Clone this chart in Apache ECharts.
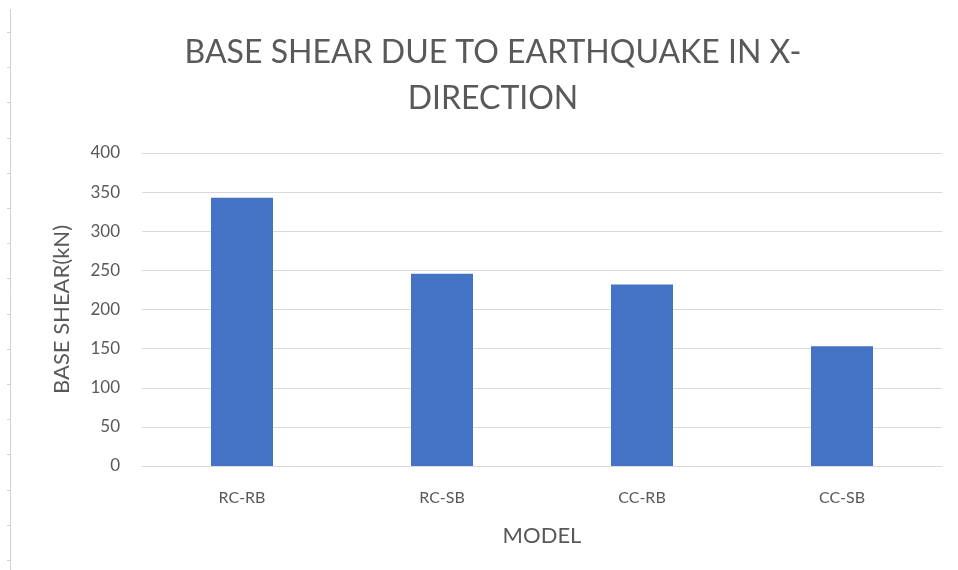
<!DOCTYPE html>
<html>
<head>
<meta charset="utf-8">
<script src="https://cdn.jsdelivr.net/npm/echarts@6/dist/echarts.min.js"></script>
<style>
  html, body { margin: 0; padding: 0; background: #ffffff; }
  #chart { width: 958px; height: 570px; }
</style>
</head>
<body>
<div id="chart"></div>
<script>
// Base shear per structural model (kN)
const models = ['RC-RB', 'RC-SB', 'CC-RB', 'CC-SB'];
const baseShear = [342.8, 245.8, 231.8, 152.9];
const yTicks = { min: 0, max: 400, interval: 50 };

const textColor = '#595959';
const gridColor = '#d9d9d9';
const fontFamily = 'Lato, "Open Sans", sans-serif';

// thin ruler with small tick marks along the left edge of the page
const rulerTicks = [];
for (let y = 32; y < 570; y += 35.2) {
  rulerTicks.push({
    type: 'line',
    shape: { x1: 7, y1: Math.round(y) + 0.5, x2: 10, y2: Math.round(y) + 0.5 },
    style: { stroke: '#d0d0d0', lineWidth: 1 }
  });
}

const chart = echarts.init(document.getElementById('chart'), null, { renderer: 'canvas' });
chart.setOption({
  backgroundColor: '#ffffff',
  animation: false,
  textStyle: { fontFamily },
  title: {
    text: 'BASE SHEAR DUE TO EARTHQUAKE IN X-\nDIRECTION',
    left: 488,
    top: 25,
    textAlign: 'center',
    textStyle: {
      color: textColor,
      fontSize: 32,
      fontWeight: 'normal',
      fontFamily,
      lineHeight: 46
    }
  },
  graphic: [
    {
      type: 'line',
      shape: { x1: 10.5, y1: 9, x2: 10.5, y2: 570 },
      style: { stroke: '#d0d0d0', lineWidth: 1 }
    },
    ...rulerTicks
  ],
  grid: { left: 142, right: 16, top: 153, bottom: 104 },
  xAxis: {
    type: 'category',
    data: models,
    name: 'MODEL',
    nameLocation: 'middle',
    nameGap: 59,
    nameTextStyle: { color: textColor, fontSize: 22, fontFamily },
    axisLine: { show: true, lineStyle: { color: gridColor, width: 1 } },
    axisTick: { show: false },
    axisLabel: { color: textColor, fontSize: 16, margin: 24, fontFamily }
  },
  yAxis: {
    type: 'value',
    min: yTicks.min,
    max: yTicks.max,
    interval: yTicks.interval,
    name: 'BASE SHEAR(kN)',
    nameLocation: 'middle',
    nameGap: 69,
    nameRotate: 90,
    nameTextStyle: { color: textColor, fontSize: 22, fontFamily },
    axisLine: { show: false },
    axisTick: { show: false },
    axisLabel: { color: textColor, fontSize: 17, margin: 22, fontFamily },
    splitLine: { lineStyle: { color: gridColor, width: 1 } }
  },
  series: [{
    type: 'bar',
    data: baseShear,
    barWidth: '31%',
    itemStyle: { color: '#4472c4' }
  }]
});
</script>
</body>
</html>
